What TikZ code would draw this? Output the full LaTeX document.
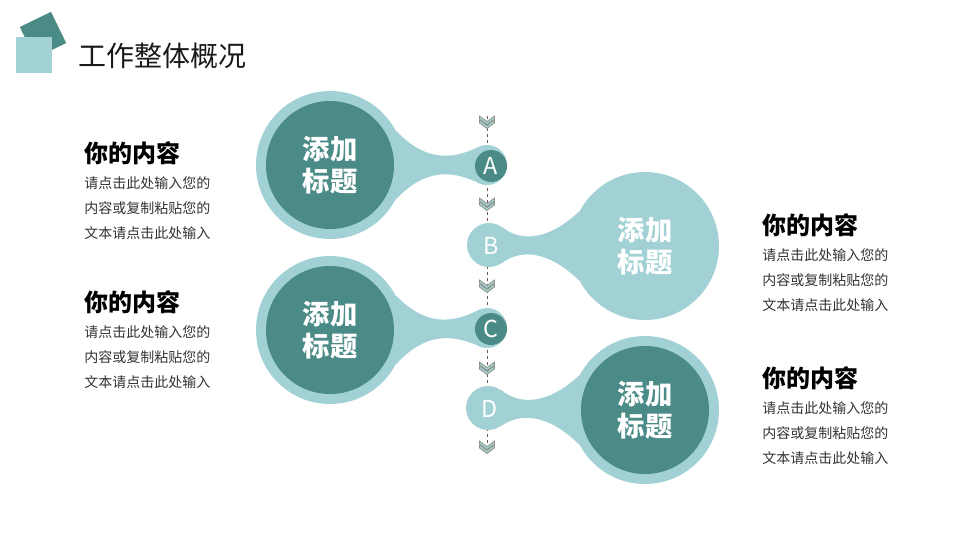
\documentclass[tikz,border=0pt]{standalone}
\usepackage{fontspec}
\setmainfont{Noto Sans CJK SC}
\usepackage{tikz}
\usetikzlibrary{shapes,arrows,fit,positioning}
\definecolor{tealD}{rgb}{.29,.54,.53}
\definecolor{tealL}{rgb}{.63,.82,.83}
\definecolor{dashC}{rgb}{.42,.36,.31}
\definecolor{chevC}{rgb}{.55,.55,.5}
\def\Head{你的内容}
\def\Body{请点击此处输入您的\\内容或复制粘贴您的\\文本请点击此处输入}
\def\Title{添加\\标题}

\begin{document}
\begin{tikzpicture}[% slide pixels, y runs downwards
      x=0.75pt,y=-0.75pt,
      every node/.style={
        align=center,     % so that "\\" breaks the titles
        inner sep=0pt
      },
      ring/.style={circle,fill=tealL,minimum size=111pt},
      core/.style={circle,fill=tealD,minimum size=96pt},
      bigtext/.style={text=white,font=\fontsize{20.5}{24}\selectfont\bfseries},
      dot/.style={circle,fill=tealL,minimum size=30pt},
      letter/.style={circle,minimum size=24pt,text=white,font=\fontsize{17.5}{17.5}\selectfont},
      head/.style={anchor=west,font=\fontsize{18}{18}\selectfont\bfseries},
      body/.style={align=left,text=black!80,font=\fontsize{10.5}{18.75}\selectfont},
      vline/.style={draw=dashC,dash pattern=on 2.5pt off 2pt,line width=.6pt},
      chevron/.style={fill=tealL,draw=chevC,line width=.5pt},
      chev/.pic={\foreach \d in {-2,2} \path[chevron] (-7.5,\d-4)--(0,\d+1.5)--(7.5,\d-4)--(7.5,\d-1)--(0,\d+4.5)--(-7.5,\d-1)--cycle;}
    ]
    \useasboundingbox (0,0) rectangle (960,540);
    % title
    \node[rectangle,fill=tealD,minimum size=26pt,rotate=26](sq1) at (43,35) {};
    \node[rectangle,fill=tealL,minimum size=27pt](sq2) at (34,55) {};
    \node[anchor=west,text=black!90,font=\fontsize{21}{21}\selectfont](title) at (78,56) {工作整体概况};
    % time line
    \coordinate(top) at (487,116);
    \coordinate(bot) at (487,446);
    \draw[vline](top)--(bot);
    \foreach \y in {122,204,286,368,447} \pic at (487,\y) {chev};
    % bubbles
    \node[ring](o1) at (330,165) {};
    \node[ring](o2) at (645,246) {};
    \node[ring](o3) at (330,330) {};
    \node[ring](o4) at (645,410) {};
    \node[dot](sa) at (487,165) {};
    \node[dot,minimum size=33pt](sb) at (489,245) {};
    \node[dot](sc) at (487,328) {};
    \node[dot,minimum size=33pt](sd) at (488,408) {};
    \fill[tealL] (o1.28) .. controls (425,162) and (452,159) .. (sa.125) -- (sa.-125) .. controls (452,171) and (425,168) .. (o1.-28) -- cycle;
    \fill[tealL] (sb.55) .. controls (520,242) and (548,241) .. (o2.152) -- (o2.-152) .. controls (548,250) and (520,249) .. (sb.-55) -- cycle;
    \fill[tealL] (o3.28) .. controls (425,326) and (452,323) .. (sc.125) -- (sc.-125) .. controls (452,335) and (425,332) .. (o3.-28) -- cycle;
    \fill[tealL] (sd.55) .. controls (520,405.5) and (548,404.5) .. (o4.152) -- (o4.-152) .. controls (548,413.5) and (520,412.5) .. (sd.-55) -- cycle;
    \node[core,bigtext](c1) at (o1) {\Title};
    \node[bigtext](t2) at (o2) {\Title};
    \node[core,bigtext](c3) at (o3) {\Title};
    \node[core,bigtext](c4) at (o4) {\Title};
    \node[letter,fill=tealD](a) at (491,166) {A};
    \node[letter](b) at (491,246) {B};
    \node[letter,fill=tealD](c) at (491,329) {C};
    \node[letter](d) at (490,409) {D};
    % texts
    \node[head](h1) at (84,153) {\Head};
    \node[body,below=8.5pt of h1.south west,anchor=north west](p1) {\Body};
    \node[head](h2) at (762,225) {\Head};
    \node[body,below=8.5pt of h2.south west,anchor=north west](p2) {\Body};
    \node[head](h3) at (84,302) {\Head};
    \node[body,below=8.5pt of h3.south west,anchor=north west](p3) {\Body};
    \node[head](h4) at (762,378) {\Head};
    \node[body,below=8.5pt of h4.south west,anchor=north west](p4) {\Body};
  \end{tikzpicture}
\end{document}
